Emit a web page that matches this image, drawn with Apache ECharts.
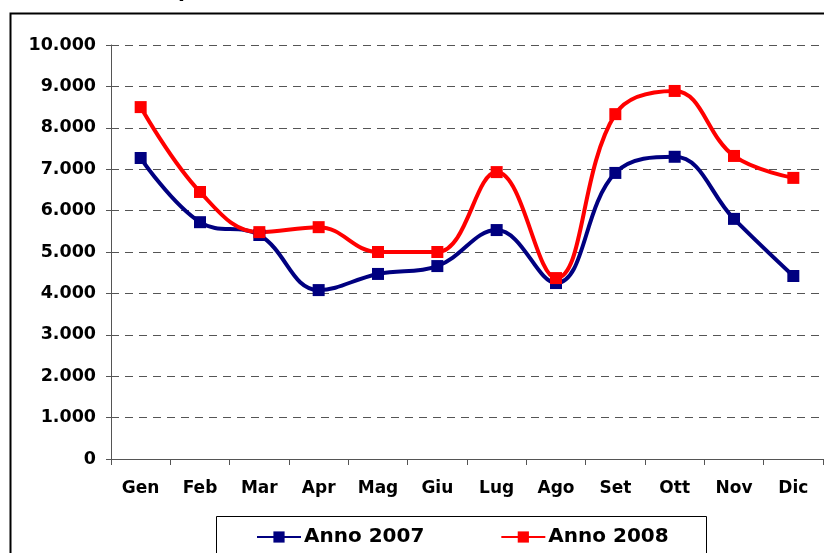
<!DOCTYPE html>
<html>
<head>
<meta charset="utf-8">
<script src="https://cdn.jsdelivr.net/npm/echarts@6/dist/echarts.min.js"></script>
<style>
  html, body { margin: 0; padding: 0; background: #fff; }
  #chart { width: 824px; height: 553px; }
</style>
</head>
<body>
<div id="chart"></div>
<script>
// mesi
var mesi = ['Gen', 'Feb', 'Mar', 'Apr', 'Mag', 'Giu', 'Lug', 'Ago', 'Set', 'Ott', 'Nov', 'Dic'];
// valori
var anno2007 = [7270, 5720, 5410, 4080, 4470, 4660, 5530, 4250, 6910, 7300, 5800, 4420];
var anno2008 = [8500, 6450, 5480, 5600, 5000, 5000, 6930, 4370, 8330, 8890, 7320, 6790];

var oChart = echarts.init(document.getElementById('chart'));

function numIt(v) {
    return String(v).replace(/\B(?=(\d{3})+(?!\d))/g, '.');
}

var chartopt = {
    backgroundColor: '#fff',
    animation: false,
    textStyle: { fontFamily: 'DejaVu Sans' },
    graphic: [
        // titolo tagliato in alto
        { type: 'text', left: 178, top: -18, silent: true,
          style: { text: 'p', font: 'bold 20px DejaVu Sans', fill: '#000' } },
        // cornice esterna
        { type: 'rect', left: 8, top: 11, shape: { width: 830, height: 560 },
          style: { fill: 'none', stroke: '#000', lineWidth: 2 }, silent: true },
        // riquadro legenda
        { type: 'rect', left: 216, top: 516, shape: { width: 490, height: 50 },
          style: { fill: '#fff', stroke: '#000', lineWidth: 1 }, silent: true, z: 1 }
    ],
    legend: {
        data: ['Anno 2007', 'Anno 2008'],
        left: 251,
        top: 522,
        itemWidth: 44,
        itemHeight: 14,
        itemGap: 76,
        z: 5,
        textStyle: { fontSize: 20, fontWeight: 'bold', color: '#000', fontFamily: 'DejaVu Sans', padding: [0, 0, 0, -2] }
    },
    grid: {
        left: 111,
        top: 45,
        right: 1,
        bottom: 94
    },
    xAxis: [{
        type: 'category',
        data: mesi,
        boundaryGap: true,
        axisLine: { lineStyle: { color: '#555', width: 1 } },
        axisTick: { show: true, length: 6, lineStyle: { color: '#555' } },
        axisLabel: { fontSize: 17, fontWeight: 'bold', color: '#000', margin: 21 }
    }],
    yAxis: [{
        type: 'value',
        min: 0,
        max: 10000,
        interval: 1000,
        axisLine: { show: true, lineStyle: { color: '#555', width: 1 } },
        axisTick: { show: true, length: 5, lineStyle: { color: '#555' } },
        axisLabel: {
            fontSize: 17.5, fontWeight: 'bold', color: '#000', margin: 15,
            formatter: numIt
        },
        splitLine: { show: true, lineStyle: { color: '#555', type: [8, 6], width: 1 } }
    }],
    series: [{
        name: 'Anno 2007',
        type: 'line',
        smooth: 0.4,
        symbol: 'rect',
        symbolSize: 12,
        data: anno2007,
        itemStyle: { color: '#000080' },
        lineStyle: { color: '#000080', width: 4 }
    }, {
        name: 'Anno 2008',
        type: 'line',
        smooth: 0.4,
        symbol: 'rect',
        symbolSize: 12,
        data: anno2008,
        itemStyle: { color: '#ff0000' },
        lineStyle: { color: '#ff0000', width: 4 }
    }]
};

oChart.setOption(chartopt);
</script>
</body>
</html>
